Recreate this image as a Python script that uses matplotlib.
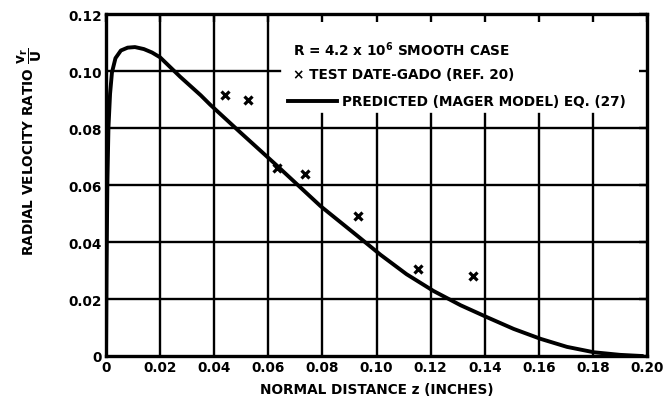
import matplotlib.pyplot as plt

# predicted curve (Mager model)
z_curve = [0.0, 0.0002, 0.0005, 0.0009, 0.0015, 0.0022, 0.0035, 0.0055, 0.008,
           0.0107, 0.014, 0.017, 0.020, 0.0274, 0.035, 0.0385, 0.0496, 0.0633,
           0.0793, 0.093, 0.1015, 0.1111, 0.1211, 0.1311, 0.1411, 0.1507,
           0.1607, 0.1704, 0.1804, 0.19, 0.198]
v_curve = [0.0, 0.03, 0.06, 0.08, 0.092, 0.0995, 0.1045, 0.1072, 0.1082,
           0.1084, 0.1077, 0.1065, 0.1048, 0.098, 0.0915, 0.0882, 0.0785, 0.0667,
           0.0526, 0.0421, 0.0355, 0.0287, 0.0228, 0.0178, 0.0135, 0.0095,
           0.0060, 0.0032, 0.0013, 0.0004, 0.0]

# test data, Gado (ref. 20)
z_test = [0.0441, 0.0526, 0.0632, 0.0737, 0.0933, 0.1152, 0.1356]
v_test = [0.0916, 0.0898, 0.0660, 0.0639, 0.0491, 0.0305, 0.0281]

xticks = [0, 0.02, 0.04, 0.06, 0.08, 0.10, 0.12, 0.14, 0.16, 0.18, 0.20]
xlabels = ['0', '0.02', '0.04', '0.06', '0.08', '0.10', '0.12', '0.14', '0.16', '0.18', '0.20']
yticks = [0, 0.02, 0.04, 0.06, 0.08, 0.10, 0.12]
ylabels = ['0', '0.02', '0.04', '0.06', '0.08', '0.10', '0.12']

plt.rcParams['font.family'] = ['DejaVu Sans']
plt.rcParams['font.weight'] = 'bold'
fs = 9.8

fig = plt.figure(figsize=(6.65, 4.06), dpi=100)
ax = fig.add_axes([0.1594, 0.1207, 0.8136, 0.8423])
ax.set_xlim(0, 0.20)
ax.set_ylim(0, 0.12)

# grid drawn by hand so it stays out of the legend block
leg_left = 0.0644
leg_bottom = 0.085
for x in xticks[1:-1]:
    top = 1.0 if x < leg_left else leg_bottom / 0.12
    ax.axvline(x, ymin=0, ymax=top, color='black', lw=1.7, zorder=1)
for y in yticks[1:-1]:
    right = 1.0 if y < leg_bottom else leg_left / 0.20
    ax.axhline(y, xmin=0, xmax=right, color='black', lw=1.7, zorder=1)

ax.plot(z_curve, v_curve, color='black', lw=2.8, zorder=3)
ax.plot(z_test, v_test, 'x', color='black', ms=6, mew=2.3, zorder=3)

for s in ax.spines.values():
    s.set_linewidth(2.4)

ax.set_xticks(xticks)
ax.set_xticklabels(xlabels)
ax.set_yticks(yticks)
ax.set_yticklabels(ylabels)
ax.tick_params(axis='both', length=0, labelsize=fs, pad=3)
ax.tick_params(axis='x', top=True, bottom=False, direction='in', length=6, width=1.7)
ax.tick_params(axis='y', right=True, left=False, direction='in', length=6, width=1.7)

ax.set_xlabel('NORMAL DISTANCE z (INCHES)', fontsize=fs, fontweight='bold', labelpad=6)
ax.set_ylabel(r'RADIAL VELOCITY RATIO $\mathbf{\dfrac{v_r}{U}}$', fontsize=fs,
              fontweight='bold')
ax.yaxis.set_label_coords(-0.115, 0.6)

# key block, top right
tr = ax.transAxes
ax.text(0.3457, 0.898, r'R = 4.2 x 10$^{\mathbf{6}}$ SMOOTH CASE', transform=tr,
        fontsize=fs, va='center', ha='left')
ax.text(0.3457, 0.8246, '\u00d7 TEST DATE-GADO (REF. 20)', transform=tr,
        fontsize=fs, va='center', ha='left')
ax.plot([0.336, 0.427], [0.7456, 0.7456], color='black', lw=2.8, transform=tr)
ax.text(0.437, 0.7456, 'PREDICTED (MAGER MODEL) EQ. (27)', transform=tr,
        fontsize=fs, va='center', ha='left')

fig.savefig('out.png', dpi=100)
